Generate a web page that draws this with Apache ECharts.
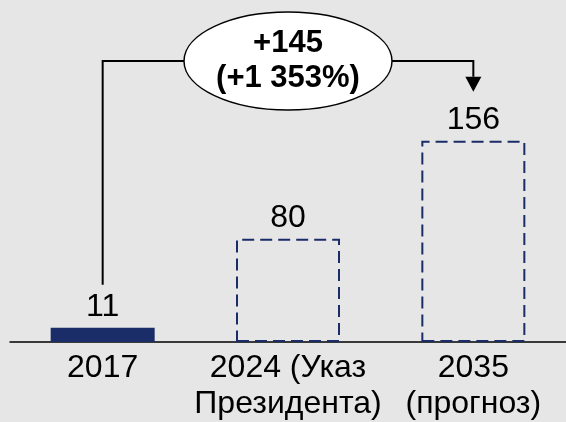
<!DOCTYPE html>
<html>

<head>
    <meta charset="utf-8" />
    <title>ECharts</title>
    <script src="https://cdn.jsdelivr.net/npm/echarts@6/dist/echarts.min.js"></script>
    <style>
        html, body { margin: 0; padding: 0; background: #e6e6e6; }
    </style>
</head>

<body>
    <div id="main" style="width: 566px;height:422px;"></div>
    <script type="text/javascript">
        // данные
        const categories = ['2017', '2024 (Указ\nПрезидента)', '2035\n(прогноз)'];
        const values = [11, 80, 156];
        const barKinds = ['solid', 'dashed', 'dashed'];
        const changeText = ['+145', '(+1 353%)'];

        const navy = '#1b2d69';
        const font = '"Liberation Sans", Arial, sans-serif';

        let myChart = echarts.init(document.getElementById('main'));

        let barData = values.map((v, i) => {
            if (barKinds[i] === 'solid') {
                return { value: v, itemStyle: { color: navy } };
            }
            return {
                value: v,
                itemStyle: {
                    color: 'rgba(0,0,0,0)',
                    borderColor: navy,
                    borderWidth: 2,
                    borderType: [12, 6]
                }
            };
        });

        let option = {
            backgroundColor: '#e6e6e6',
            animation: false,
            grid: { left: 10, width: 558, top: 84, bottom: 79 },
            xAxis: {
                type: 'category',
                data: categories,
                axisLine: { show: true, lineStyle: { color: '#000', width: 1.5 } },
                axisTick: { show: false },
                axisLabel: {
                    interval: 0,
                    margin: 8,
                    fontSize: 32,
                    lineHeight: 36,
                    color: '#000',
                    fontFamily: font
                }
            },
            yAxis: {
                type: 'value',
                min: 0,
                max: 200,
                show: false,
                splitLine: { show: false }
            },
            series: [{
                type: 'bar',
                barWidth: 104,
                data: barData,
                label: {
                    show: true,
                    position: 'top',
                    distance: 5,
                    fontSize: 32,
                    color: '#000',
                    fontFamily: font
                }
            }]
        };
        myChart.setOption(option);

        // стрелка с приростом
        let p0 = myChart.convertToPixel({ seriesIndex: 0 }, [0, values[0]]);
        let p1 = myChart.convertToPixel({ seriesIndex: 0 }, [1, values[1]]);
        let p2 = myChart.convertToPixel({ seriesIndex: 0 }, [2, values[2]]);
        let lineY = 61;
        let cx = p1[0], rx = 104, ry = 49;

        myChart.setOption({
            graphic: [
                {
                    type: 'polyline',
                    shape: { points: [[p0[0], p0[1] - 43], [p0[0], lineY], [cx - rx, lineY]] },
                    style: { stroke: '#000', lineWidth: 2, fill: null },
                    z: 10
                },
                {
                    type: 'polyline',
                    shape: { points: [[cx + rx, lineY], [p2[0], lineY], [p2[0], p2[1] - 64]] },
                    style: { stroke: '#000', lineWidth: 2, fill: null },
                    z: 10
                },
                {
                    type: 'polygon',
                    shape: { points: [[p2[0] - 8, p2[1] - 64], [p2[0] + 8, p2[1] - 64], [p2[0], p2[1] - 49]] },
                    style: { fill: '#000' },
                    z: 10
                },
                {
                    type: 'ellipse',
                    shape: { cx: cx, cy: lineY, rx: rx, ry: ry },
                    style: { fill: '#fff', stroke: '#000', lineWidth: 1.5 },
                    z: 11
                },
                {
                    type: 'text',
                    x: cx,
                    y: lineY,
                    style: {
                        text: changeText.join('\n'),
                        font: 'bold 31px ' + font,
                        lineHeight: 35,
                        align: 'center',
                        verticalAlign: 'middle',
                        fill: '#000'
                    },
                    z: 12
                }
            ]
        });
    </script>
</body>

</html>
